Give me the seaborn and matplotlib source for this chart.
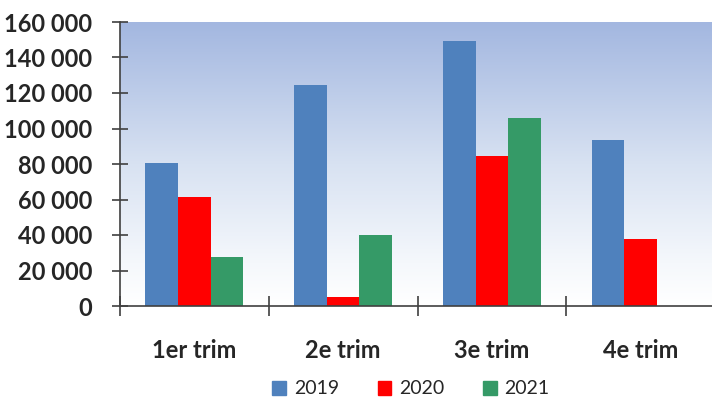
import numpy as np
import pandas as pd
import matplotlib
matplotlib.use("Agg")
import matplotlib.pyplot as plt
from matplotlib.ticker import FuncFormatter, FixedLocator
from matplotlib.colors import LinearSegmentedColormap
import seaborn as sns

# ─────────────────────────────────────────────────────────────
# Données
# ─────────────────────────────────────────────────────────────
trimestres = ["1er trim", "2e trim", "3e trim", "4e trim"]
annees = ["2019", "2020", "2021"]
val_2019 = [80500, 124700, 149300, 93300]
val_2020 = [61200, 5200, 84300, 37600]
val_2021 = [27400, 40000, 106100, np.nan]
couleurs = ["#4F81BD", "#FF0000", "#359A67"]
yticks = [0, 20000, 40000, 60000, 80000, 100000, 120000, 140000, 160000]

df = pd.DataFrame({
    "Trimestre": trimestres * 3,
    "Annee": sum([[a] * len(trimestres) for a in annees], []),
    "Valeur": val_2019 + val_2020 + val_2021,
})

sns.set_style("white")
plt.rcParams["font.family"] = ["Lato", "DejaVu Sans"]

fig = plt.figure(figsize=(7.12, 4.05), dpi=100)
ax = fig.add_axes([120 / 712, 99 / 405, 595 / 712, 284 / 405])

# fond en dégradé (bleu clair en haut -> blanc en bas)
grad = LinearSegmentedColormap.from_list(
    "fond", [(0, "#FFFFFF"), (0.15, "#F5F8FC"), (0.5, "#D8E2F2"), (1, "#A3B7E0")])
ax.imshow(np.linspace(0, 1, 256).reshape(-1, 1), cmap=grad, aspect="auto",
          origin="lower", extent=(-0.5, 3.5, 0, 160000), zorder=0)

sns.barplot(data=df, x="Trimestre", y="Valeur", hue="Annee", order=trimestres,
            hue_order=annees, palette=couleurs, width=0.66, saturation=1,
            errorbar=None, ax=ax, zorder=2, linewidth=0)

ax.set_xlim(-0.5, 3.5)
ax.set_ylim(0, 160000)
ax.set_xlabel("")
ax.set_ylabel("")

for s in ["top", "right"]:
    ax.spines[s].set_visible(False)
for s in ["left", "bottom"]:
    ax.spines[s].set_color("#404040")
    ax.spines[s].set_linewidth(1.2)
    ax.spines[s].set_zorder(3)

ax.yaxis.set_major_locator(FixedLocator(yticks))
ax.yaxis.set_major_formatter(FuncFormatter(lambda v, p: f"{int(v):,}".replace(",", " ")))
ax.tick_params(axis="y", direction="inout", length=12, width=1.2, color="#404040",
               pad=14, labelsize=17, left=True)
for lab in ax.get_yticklabels():
    lab.set_fontweight("bold")

ax.set_xticks(range(len(trimestres)))
ax.set_xticklabels(trimestres, fontsize=17, fontweight="bold")
ax.tick_params(axis="x", which="major", length=0, pad=24)
ax.set_xticks([-0.5, 0.5, 1.5, 2.5, 3.5], minor=True)
ax.tick_params(axis="x", which="minor", direction="inout", length=14, width=1.2,
               color="#404040", bottom=True)
ax.grid(False)

ax.legend_.remove()
handles = [plt.Rectangle((0, 0), 1, 1, color=c) for c in couleurs]
fig.legend(handles, annees, loc="center", bbox_to_anchor=(411 / 712, 16 / 405),
           ncol=3, frameon=False, fontsize=14, handlelength=0.7, handleheight=0.7,
           handletextpad=0.4, columnspacing=2.0)

fig.savefig("out.png", dpi=100)
